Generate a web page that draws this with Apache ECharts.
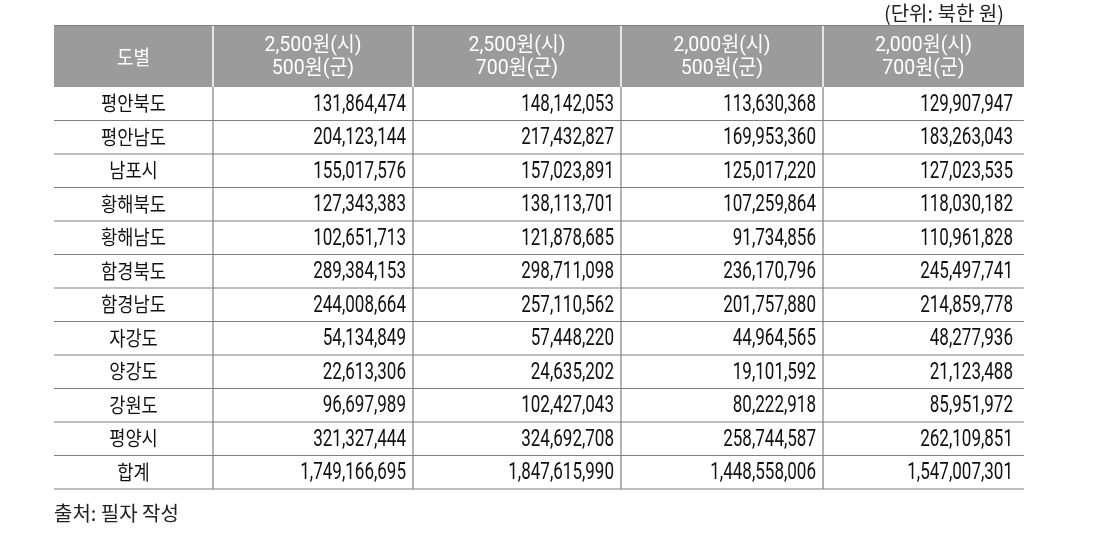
<!DOCTYPE html>
<html>
<head>
<meta charset="utf-8">
<script src="https://cdn.jsdelivr.net/npm/echarts@6/dist/echarts.min.js"></script>
<style>html,body{margin:0;padding:0;background:#fff;}#c{width:1110px;height:544px;}</style>
</head>
<body>
<div id="c"></div>
<script>
// ---- data ----
var headerFirst = '도별';
var headerCols = ['2,500원(시)\n500원(군)', '2,500원(시)\n700원(군)', '2,000원(시)\n500원(군)', '2,000원(시)\n700원(군)'];
var regions = ['평안북도', '평안남도', '남포시', '황해북도', '황해남도', '함경북도', '함경남도', '자강도', '양강도', '강원도', '평양시', '합계'];
var s2500_500 = [131864474, 204123144, 155017576, 127343383, 102651713, 289384153, 244008664, 54134849, 22613306, 96697989, 321327444, 1749166695];
var s2500_700 = [148142053, 217432827, 157023891, 138113701, 121878685, 298711098, 257110562, 57448220, 24635202, 102427043, 324692708, 1847615990];
var s2000_500 = [113630368, 169953360, 125017220, 107259864, 91734856, 236170796, 201757880, 44964565, 19101592, 80222918, 258744587, 1448558006];
var s2000_700 = [129907947, 183263043, 127023535, 118030182, 110961828, 245497741, 214859778, 48277936, 21123488, 85951972, 262109851, 1547007301];
var unitText = '(단위: 북한 원)';
var sourceText = '출처: 필자 작성';

// ---- layout (not data) ----
var colEdges = [0, 159, 359, 567, 769, 970];
var LINE = '#7f7f7f';
var HEAD_BG = '#9b9b9b';
var NUM_FONT = "Roboto, 'Noto Sans CJK KR', sans-serif";
var KR_FONT = "'Noto Sans CJK KR', sans-serif";

var valueCols = [s2500_500, s2500_700, s2000_500, s2000_700];
function fmt(v) { return v.toLocaleString('en-US'); }

var headerData = [[0, 0]];
for (var i = 0; i < headerCols.length; i++) headerData.push([i + 1, 0]);
var bodyData = [];
for (var r = 0; r < regions.length; r++) {
  for (var c = 0; c < 5; c++) bodyData.push([c, r]);
}

function cellBox(api, c, r) {
  var p0 = api.coord([colEdges[c], r]);
  var p1 = api.coord([colEdges[c + 1], r]);
  var h = api.size([0, 1])[1];
  return { x: p0[0], y: p0[1] - h / 2, w: p1[0] - p0[0], h: h };
}

function scaledText(x, y, sx, style) {
  style.x = 0; style.y = 0;
  return { type: 'text', x: x, y: y, scaleX: sx, scaleY: 1, style: style };
}

var chart = echarts.init(document.getElementById('c'), null, { renderer: 'canvas' });
chart.setOption({
  backgroundColor: '#ffffff',
  animation: false,
  title: [
    { text: unitText, right: 101, top: -2, textStyle: { fontFamily: KR_FONT, fontSize: 20, fontWeight: 'normal', color: '#222' } },
    { text: sourceText, left: 49, top: 498, textStyle: { fontFamily: KR_FONT, fontSize: 20, fontWeight: 'normal', color: '#222' } }
  ],
  grid: [
    { left: 54, right: 86, top: 25, height: 62 },
    { left: 54, right: 86, top: 87, height: 402 }
  ],
  xAxis: [
    { type: 'value', gridIndex: 0, min: 0, max: 970, show: false },
    { type: 'value', gridIndex: 1, min: 0, max: 970, show: false }
  ],
  yAxis: [
    { type: 'category', gridIndex: 0, data: ['header'], show: false },
    { type: 'category', gridIndex: 1, data: regions, inverse: true, show: false }
  ],
  series: [
    {
      type: 'custom', xAxisIndex: 0, yAxisIndex: 0, data: headerData, silent: true,
      renderItem: function (params, api) {
        var c = api.value(0);
        var b = cellBox(api, c, 0);
        var children = [
          { type: 'rect', shape: { x: b.x, y: b.y, width: b.w, height: b.h }, style: { fill: HEAD_BG } },
          { type: 'line', shape: { x1: b.x, y1: b.y + 0.5, x2: b.x + b.w, y2: b.y + 0.5 }, style: { stroke: LINE, lineWidth: 1 } }
        ];
        if (c > 0) {
          children.push({ type: 'line', shape: { x1: b.x, y1: b.y + 1, x2: b.x, y2: b.y + b.h }, style: { stroke: '#ffffff', lineWidth: 1.5 } });
        }
        if (c === 0) {
          children.push(scaledText(b.x + b.w / 2, b.y + b.h / 2 + 1, 0.9, {
            text: headerFirst, align: 'center', verticalAlign: 'middle',
            fontSize: 20, fontFamily: KR_FONT, fill: '#ffffff'
          }));
        } else {
          children.push(scaledText(b.x + b.w / 2, b.y + b.h / 2 + 1, 0.93, {
            text: headerCols[c - 1], align: 'center', verticalAlign: 'middle',
            fontSize: 21, fontFamily: NUM_FONT, lineHeight: 23, fill: '#ffffff'
          }));
        }
        return { type: 'group', children: children };
      }
    },
    {
      type: 'custom', xAxisIndex: 1, yAxisIndex: 1, data: bodyData, silent: true,
      renderItem: function (params, api) {
        var c = api.value(0);
        var r = api.value(1);
        var b = cellBox(api, c, r);
        var children = [
          { type: 'line', shape: { x1: b.x, y1: b.y + b.h, x2: b.x + b.w, y2: b.y + b.h }, style: { stroke: LINE, lineWidth: 1.2 } }
        ];
        if (c > 0) {
          children.push({ type: 'line', shape: { x1: b.x, y1: b.y, x2: b.x, y2: b.y + b.h }, style: { stroke: LINE, lineWidth: 1.2 } });
        }
        if (c === 0) {
          children.push(scaledText(b.x + b.w / 2, b.y + b.h / 2, 0.88, {
            text: regions[r], align: 'center', verticalAlign: 'middle',
            fontSize: 20, fontFamily: KR_FONT, fill: '#111'
          }));
        } else {
          var pad = c === 4 ? 11 : 7;
          children.push(scaledText(b.x + b.w - pad, b.y + b.h / 2 + 1, 0.74, {
            text: fmt(valueCols[c - 1][r]), align: 'right', verticalAlign: 'middle',
            fontSize: 23, fontFamily: NUM_FONT, fill: '#111'
          }));
        }
        return { type: 'group', children: children };
      }
    }
  ]
});
</script>
</body>
</html>
